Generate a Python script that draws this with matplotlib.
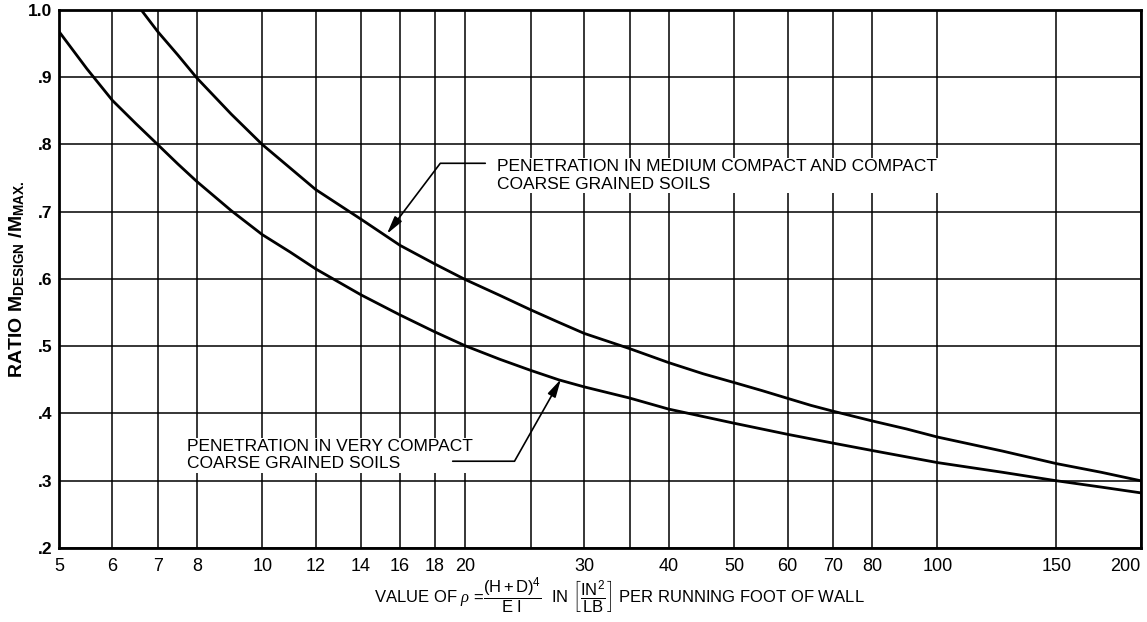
import numpy as np
import matplotlib
matplotlib.use("Agg")
import matplotlib.pyplot as plt
from matplotlib.ticker import FixedLocator, FixedFormatter

plt.rcParams['font.family'] = ['Liberation Sans', 'DejaVu Sans']
plt.rcParams['mathtext.fontset'] = 'custom'
plt.rcParams['mathtext.rm'] = 'Liberation Sans'
plt.rcParams['mathtext.it'] = 'Liberation Serif:italic'
plt.rcParams['mathtext.bf'] = 'Liberation Sans:bold'

# medium compact / compact soils
rho_medium = [6.62, 7, 7.5, 8, 9, 10, 11, 12, 14, 16, 18, 20, 22.5, 25, 27.5, 30, 35, 40, 45,
              50, 55, 60, 65, 70, 80, 90, 100, 125, 150, 175, 200]
ratio_medium = [1.0, 0.968, 0.933, 0.899, 0.845, 0.80, 0.765, 0.733, 0.689, 0.650, 0.6225,
                0.599, 0.5755, 0.554, 0.5355, 0.519, 0.4965, 0.4756, 0.459, 0.446, 0.434,
                0.4225, 0.412, 0.4035, 0.389, 0.377, 0.365, 0.344, 0.3255, 0.3125, 0.30]

# very compact soils
rho_very = [5, 5.5, 6, 6.5, 7, 7.5, 8, 9, 10, 11, 12, 14, 16, 18, 20, 22.5, 25, 27.5, 30,
            35, 40, 50, 60, 70, 80, 100, 125, 150, 175, 200]
ratio_very = [0.968, 0.9125, 0.8655, 0.831, 0.80, 0.771, 0.745, 0.7015, 0.666, 0.640, 0.615,
              0.5765, 0.5465, 0.5215, 0.5005, 0.4805, 0.464, 0.45, 0.4395, 0.423, 0.4065,
              0.3855, 0.369, 0.356, 0.345, 0.327, 0.3125, 0.30, 0.2905, 0.282]

x_ticks = [5, 6, 7, 8, 10, 12, 14, 16, 18, 20, 25, 30, 35, 40, 50, 60, 70, 80, 100, 150, 200]
x_labels = ["5", "6", "7", "8", "10", "12", "14", "16", "18", "20", "", "30", "", "40",
            "50", "60", "70", "80", "100", "150", "200"]
y_ticks = [0.2, 0.3, 0.4, 0.5, 0.6, 0.7, 0.8, 0.9, 1.0]
y_labels = [".2", ".3", ".4", ".5", ".6", ".7", ".8", ".9", "1.0"]

fig = plt.figure(figsize=(11.47, 6.22), dpi=100)
ax = fig.add_axes([0.0514, 0.119, 0.943, 0.865])

ax.set_xscale("log")
ax.set_xlim(5, 200)
ax.set_ylim(0.2, 1.0)

ax.xaxis.set_major_locator(FixedLocator(x_ticks))
ax.xaxis.set_major_formatter(FixedFormatter(x_labels))
ax.xaxis.set_minor_locator(FixedLocator([]))
ax.yaxis.set_major_locator(FixedLocator(y_ticks))
ax.yaxis.set_major_formatter(FixedFormatter(y_labels))
ax.tick_params(axis='x', length=0, pad=7, labelsize=13)
ax.tick_params(axis='y', length=0, pad=5, labelsize=12.5)
for t in ax.get_yticklabels():
    t.set_fontweight('bold')
ax.get_xticklabels()[-1].set_horizontalalignment('right')

ax.grid(True, color='black', linewidth=1.1)
for s in ax.spines.values():
    s.set_linewidth(2)

ax.plot(rho_medium, ratio_medium, color='black', linewidth=2, zorder=3)
ax.plot(rho_very, ratio_very, color='black', linewidth=2, zorder=3)

arrow = '-|>,head_length=0.9,head_width=0.22'

ax.text(22.3, 0.754, "PENETRATION IN MEDIUM COMPACT AND COMPACT\nCOARSE GRAINED SOILS",
        fontsize=12.5, va='center', ha='left', linespacing=1.2, zorder=4,
        bbox=dict(facecolor='white', edgecolor='none', pad=1))
ax.annotate("", xy=(15.3, 0.667), xytext=(21.4, 0.772),
            arrowprops=dict(arrowstyle=arrow, color='black', lw=1.2, shrinkA=0, shrinkB=0,
                            mutation_scale=12,
                            connectionstyle='angle,angleA=0,angleB=52.9,rad=0'), zorder=4)

ax.text(7.74, 0.338, "PENETRATION IN VERY COMPACT\nCOARSE GRAINED SOILS",
        fontsize=12.5, va='center', ha='left', linespacing=1.2, zorder=4,
        bbox=dict(facecolor='white', edgecolor='none', pad=1))
ax.annotate("", xy=(27.7, 0.451), xytext=(19.15, 0.329),
            arrowprops=dict(arrowstyle=arrow, color='black', lw=1.2, shrinkA=0, shrinkB=0,
                            mutation_scale=12,
                            connectionstyle='angle,angleA=0,angleB=60.5,rad=0'), zorder=4)

ax.set_ylabel(r"RATIO M$_{\mathbf{DESIGN}}$ /M$_{\mathbf{MAX.}}$", fontsize=14,
              fontweight='bold')
ax.yaxis.set_label_coords(-0.03, 0.5)
ax.set_xlabel(r"VALUE OF $\rho$ =$\dfrac{\mathrm{(H+D)^4}}{\mathrm{E\ I}}$  IN "
              r"$\left[\dfrac{\mathrm{IN^2}}{\mathrm{LB}}\right]$ PER RUNNING FOOT OF WALL",
              fontsize=12)
ax.xaxis.set_label_coords(0.518, -0.052)

fig.savefig("out.png", dpi=100)
